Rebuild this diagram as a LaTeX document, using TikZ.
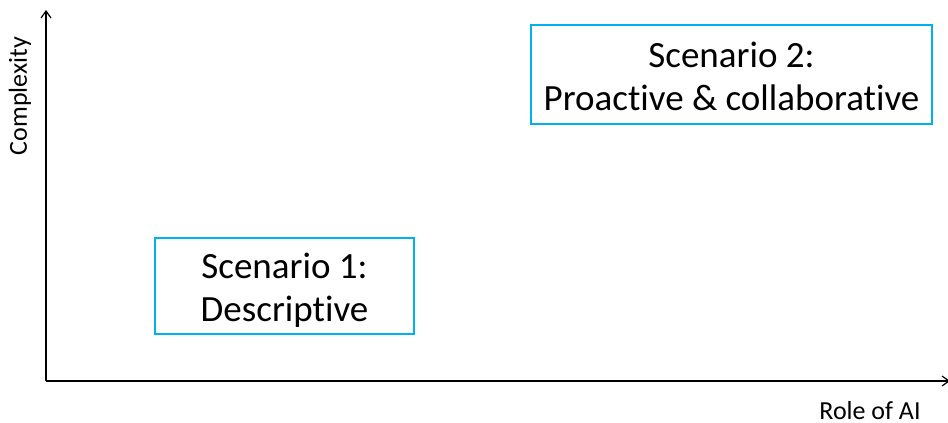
\documentclass[tikz,border=0pt]{standalone}
\usepackage{fontspec}
\setmainfont[Ligatures=NoCommon]{Carlito}
\usetikzlibrary{arrows.meta}
\definecolor{boxblue}{RGB}{0,176,240}
\begin{document}
\begin{tikzpicture}[x=1pt,y=-1pt,
  scen/.style={draw=boxblue,line width=1.5pt,align=center,font=\fontsize{37}{43}\selectfont,inner sep=0pt},
  axis/.style={line width=1.3pt,-{Straight Barb[length=7pt,width=10pt,line width=1.2pt]}},
  lab/.style={font=\fontsize{26}{30}\selectfont,inner sep=0pt}]
\useasboundingbox (0,0) rectangle (948,423);
\coordinate (o) at (46,381);
\coordinate (ytop) at (46,10);
\coordinate (xend) at (950,381);
\draw[axis] (o) -- (ytop);
\draw[axis] (o) -- (xend);
\node[scen,minimum width=259pt,minimum height=96pt] (s1) at (284.5,286) {};
\node[align=center,font=\fontsize{37}{43}\selectfont,inner sep=0pt] (t1) at (284.5,290) {Scenario 1:\\Descriptive};
\node[scen,minimum width=401pt,minimum height=99pt] (s2) at (731.5,74.5) {};
\node[align=center,font=\fontsize{37}{43}\selectfont,inner sep=0pt] (t2) at (731.5,76) {Scenario 2:\\Proactive \& collaborative};
\node[lab,rotate=90] (ylab) at (20,96) {Complexity};
\node[lab,anchor=base] (xlab) at (870,419) {Role of AI};
\end{tikzpicture}
\end{document}
